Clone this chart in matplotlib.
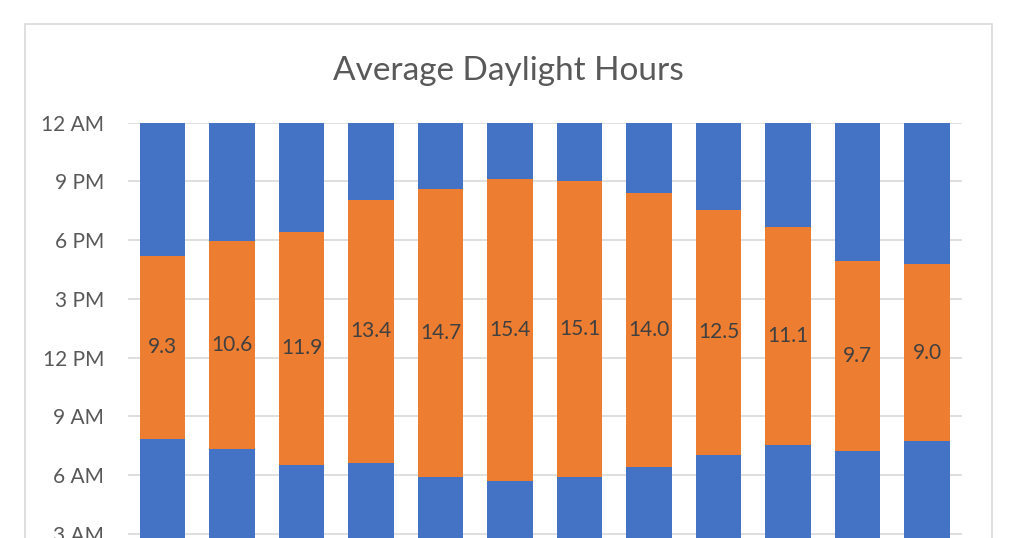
import numpy as np
import matplotlib.pyplot as plt
from matplotlib.patches import Rectangle


#DATA (hours after midnight)

months = ['Jan', 'Feb', 'Mar', 'Apr', 'May', 'Jun', 'Jul', 'Aug', 'Sep', 'Oct', 'Nov', 'Dec']

sunrise = [7.87, 7.35, 6.53, 6.64, 5.92, 5.71, 5.92, 6.43, 7.05, 7.56, 7.25, 7.76]

daylight = [9.3, 10.6, 11.9, 13.4, 14.7, 15.4, 15.1, 14.0, 12.5, 11.1, 9.7, 9.0]

hour_ticks = [0, 3, 6, 9, 12, 15, 18, 21, 24]
hour_labels = ['12 AM', '3 AM', '6 AM', '9 AM', '12 PM', '3 PM', '6 PM', '9 PM', '12 AM']


#The rest of the day up to midnight

night = 24 - np.array(sunrise) - np.array(daylight)


blue = '#4472C4'
orange = '#ED7D31'
grey = '#595959'

plt.rcParams['font.family'] = ['Lato', 'DejaVu Sans']


#The plot area goes below the bottom of the picture, as in the reference
#(so the month labels are not visible there either)

fig = plt.figure(figsize=(10.24, 5.38), dpi=100)
ax = fig.add_axes([127.7 / 1024, 1 - 592.6 / 538, 834 / 1024, 469.9 / 538])

x = np.arange(len(months))

ax.bar(x, sunrise, width=0.66, color=blue, zorder=2)
bars = ax.bar(x, daylight, width=0.66, bottom=sunrise, color=orange, zorder=2)
ax.bar(x, night, width=0.66, bottom=np.array(sunrise) + np.array(daylight), color=blue, zorder=2)

ax.bar_label(bars, labels=['%.1f' % d for d in daylight], label_type='center',
             color='#404040', fontsize=15)

ax.set_xlim(-0.5, len(months) - 0.5)
ax.set_ylim(0, 24)
ax.set_yticks(hour_ticks)
ax.set_yticklabels(hour_labels)
ax.set_xticks(x)
ax.set_xticklabels([])
ax.tick_params(axis='both', length=0, labelsize=15, labelcolor=grey)
ax.tick_params(axis='y', pad=17)
ax.yaxis.grid(True, color='#D9D9D9', linewidth=1.2, zorder=0)
ax.set_axisbelow(True)

for s in ax.spines.values():
    s.set_visible(False)


#Chart border and title

fig.patches.append(Rectangle((25 / 1024, -0.2), 967 / 1024, 1.2 - 24 / 538,
                             transform=fig.transFigure, fill=False,
                             edgecolor='#D9D9D9', linewidth=1.2))

fig.text(508.5 / 1024, 1 - 80 / 538, 'Average Daylight Hours', ha='center', va='baseline',
         fontsize=24, color=grey)

plt.savefig('out.png', dpi=100)
